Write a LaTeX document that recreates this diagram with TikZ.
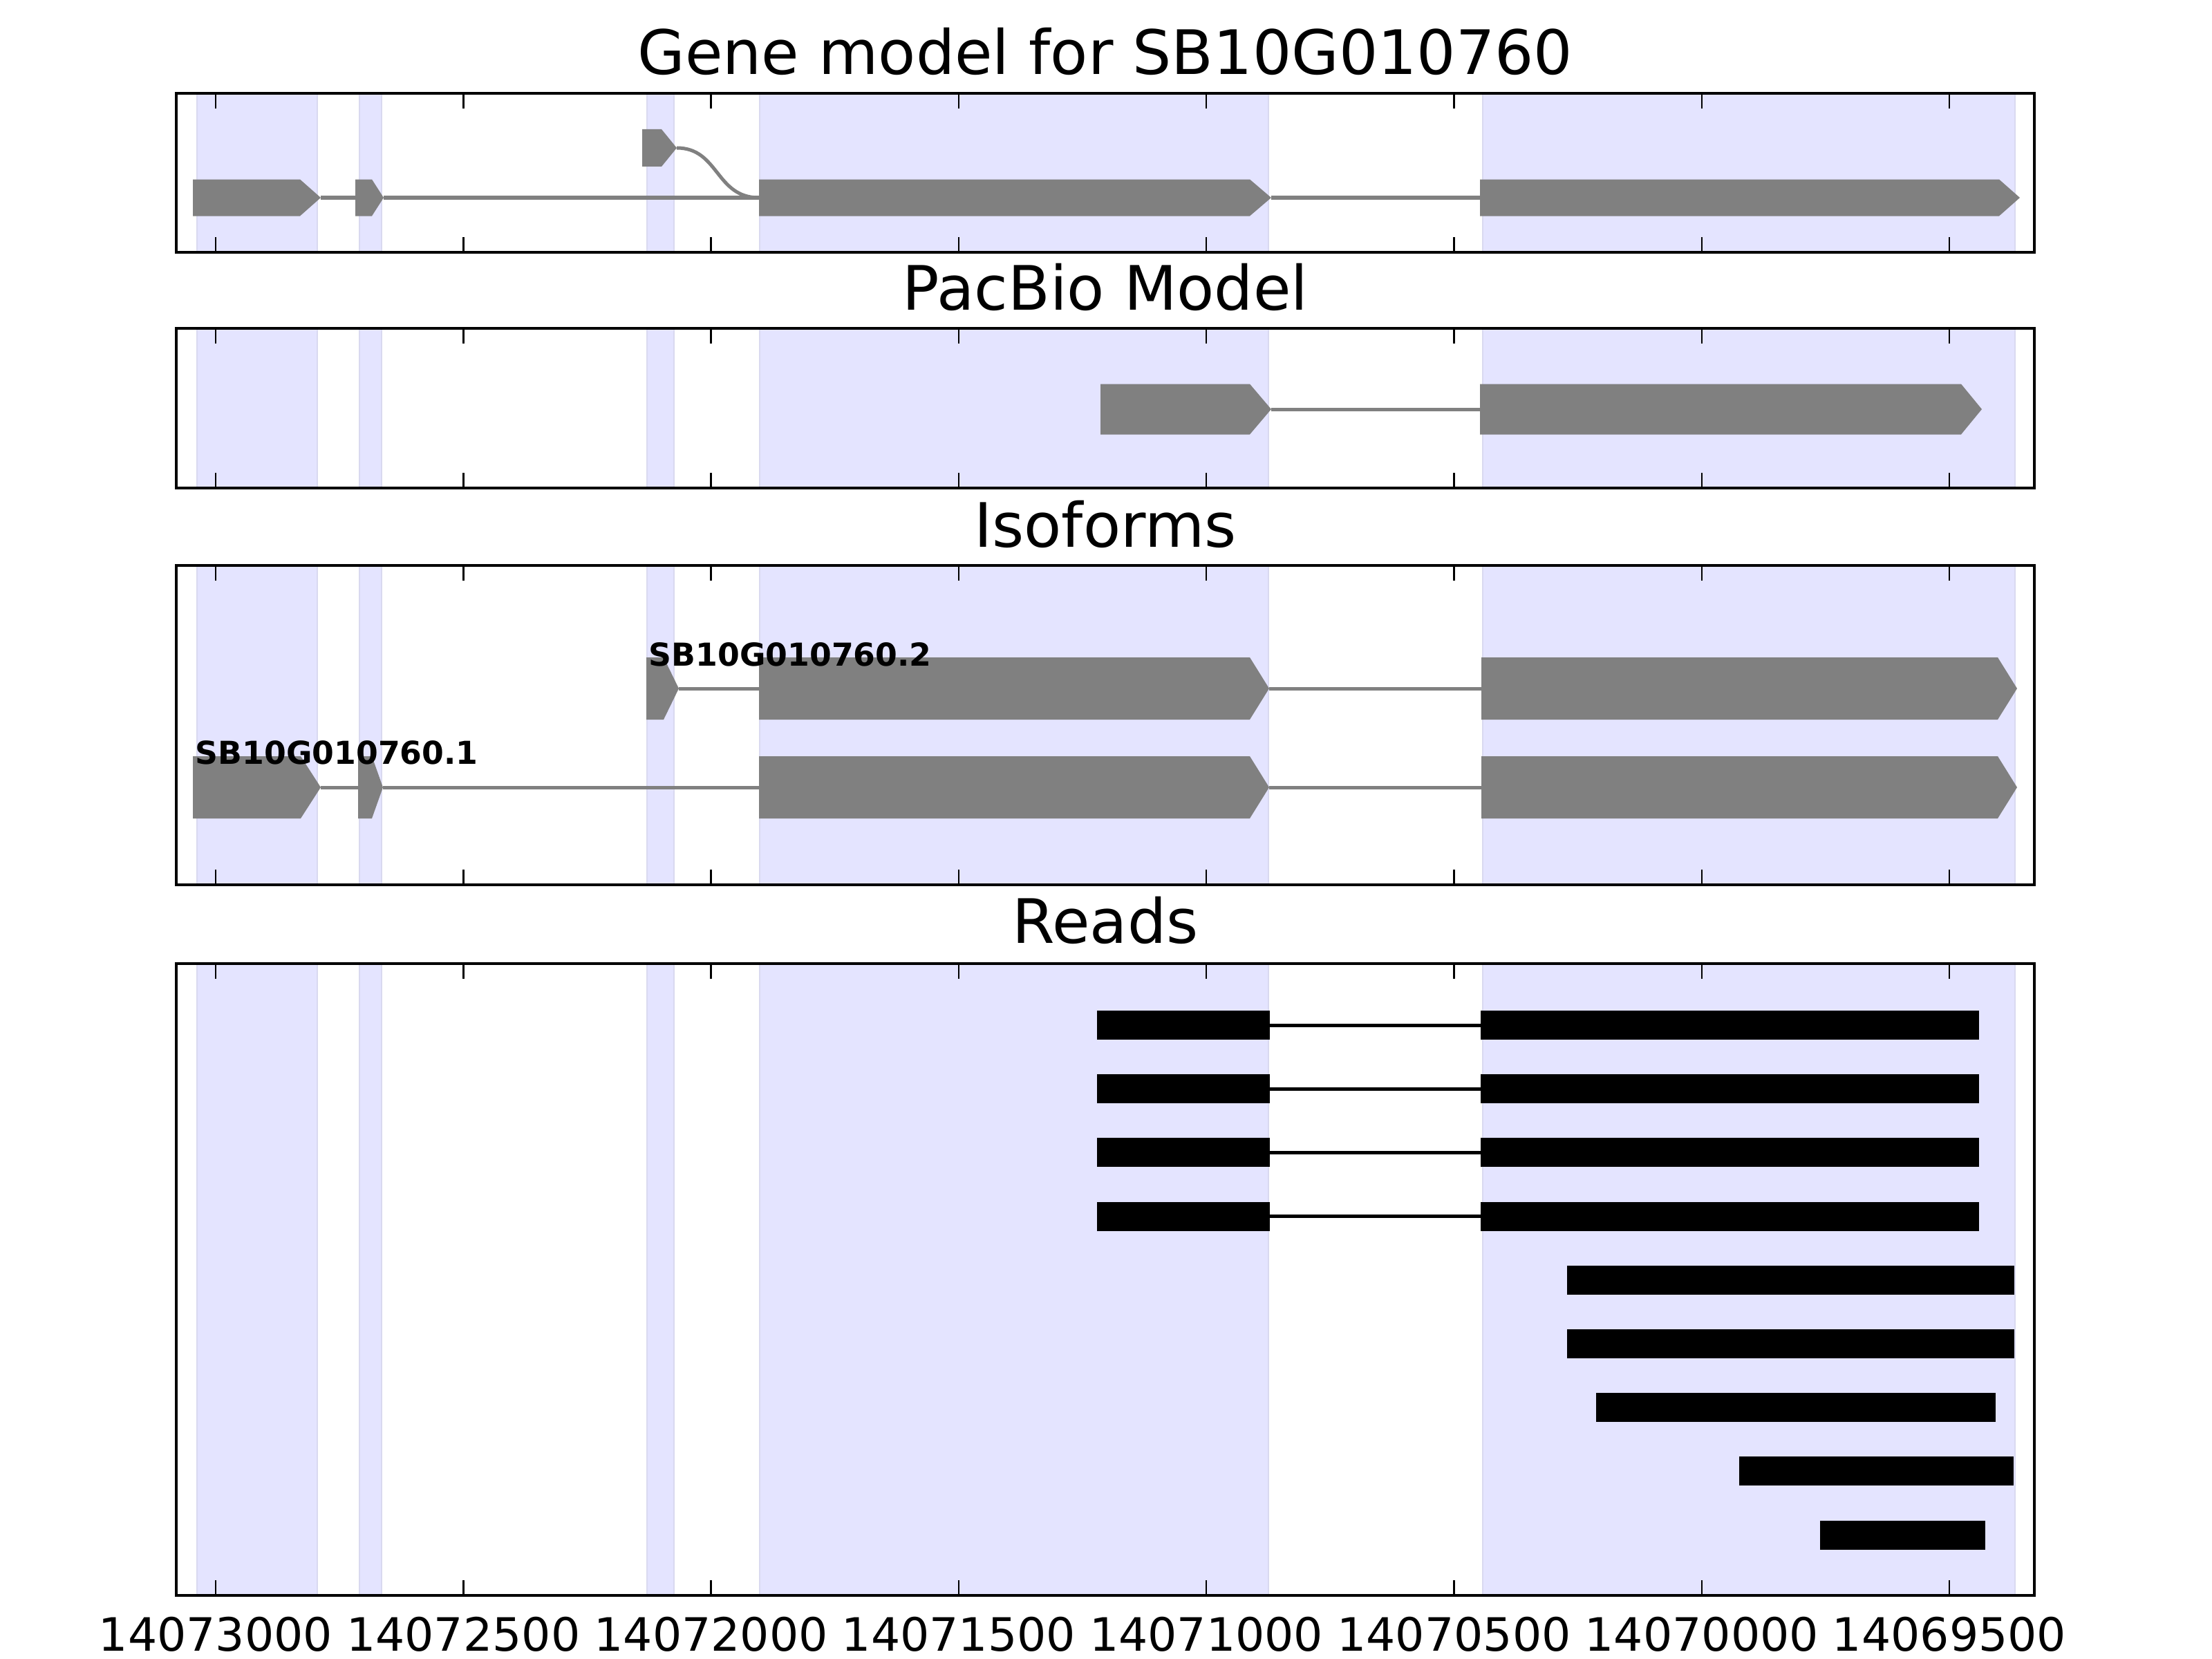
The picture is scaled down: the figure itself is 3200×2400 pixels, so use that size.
\documentclass[tikz,border=0pt]{standalone}
\usepackage{fontspec}
\setmainfont{DejaVu Sans}

\definecolor{bandfill}{rgb}{0.895,0.895,1}
\definecolor{bandedge}{rgb}{0.85,0.85,0.94}
\definecolor{exongray}{rgb}{0.5,0.5,0.5}

\tikzset{
  band/.style={fill=bandfill,draw=bandedge,line width=0.02cm},
  exon/.style={fill=exongray},
  intron/.style={draw=exongray,line width=0.05cm},
  readbar/.style={fill=black},
  readline/.style={draw=black,line width=0.05cm},
  frame/.style={draw=black,line width=0.04cm},
  tick/.style={draw=black,line width=0.025cm},
  title/.style={font=\fontsize{25.2pt}{30pt}\selectfont,anchor=base,inner sep=0pt},
  ticklabel/.style={font=\fontsize{18.9pt}{22pt}\selectfont,anchor=base,inner sep=0pt},
  isolabel/.style={font=\fontsize{13pt}{15pt}\selectfont\bfseries,anchor=base west,inner sep=0pt}
}

% x0, end of box, tip, centre y, half height
\newcommand{\exonshape}[5]{%
  \fill[exon] (#1,#4-#5) -- (#2,#4-#5) -- (#3,#4) -- (#2,#4+#5) -- (#1,#4+#5) -- cycle;}

\begin{document}
\begin{tikzpicture}[x=0.01cm,y=-0.01cm]
\useasboundingbox (0,0) rectangle (3200,2400);

% shaded exon bands in every panel
\foreach \ptop/\pbot in {135/365,475/706,818/1280,1394/2308}{
  \foreach \bl/\br in {285/459,520/552,936/975,1099/1835,2145/2915}{
    \draw[band] (\bl,\ptop) rectangle (\br,\pbot);
  }
}

% gene model
\draw[intron] (464,286) -- (514,286);
\draw[intron] (555,286) -- (1098,286);
\draw[intron] (1839,286) -- (2141,286);
\draw[intron] (979,214) .. controls (1040,214) and (1035,286) .. (1098,286);
\exonshape{279}{434}{464}{286}{26.5}
\exonshape{514}{538}{555}{286}{26.5}
\exonshape{1098}{1808}{1839}{286}{26.5}
\exonshape{2141}{2892}{2922}{286}{26.5}
\exonshape{929}{957}{979}{214}{27}

% pacbio model
\draw[intron] (1839,592) -- (2141,592);
\exonshape{1592}{1808}{1839}{592}{36.5}
\exonshape{2141}{2837}{2867}{592}{36.5}

% isoforms
\draw[intron] (982,996) -- (1098,996);
\draw[intron] (1836,996) -- (2143,996);
\exonshape{935}{960}{982}{996}{45}
\exonshape{1098}{1808}{1836}{996}{45}
\exonshape{2143}{2890}{2918}{996}{45}
\draw[intron] (464,1139) -- (518,1139);
\draw[intron] (554,1139) -- (1098,1139);
\draw[intron] (1836,1139) -- (2143,1139);
\exonshape{279}{435}{464}{1139}{45}
\exonshape{518}{538}{554}{1139}{45}
\exonshape{1098}{1808}{1836}{1139}{45}
\exonshape{2143}{2890}{2918}{1139}{45}
\node[isolabel] (iso2) at (938,963) {SB10G010760.2};
\node[isolabel] (iso1) at (282,1105) {SB10G010760.1};

% reads
\foreach \i in {0,...,3}{
  \pgfmathsetmacro{\yc}{1483+92.2*\i}
  \draw[readline] (1837,\yc) -- (2142,\yc);
  \fill[readbar] (1587,\yc-21) rectangle (1837,\yc+21);
  \fill[readbar] (2142,\yc-21) rectangle (2863,\yc+21);
}
\foreach \i/\rl/\rr in {4/2267/2914,5/2267/2914,6/2309/2887,7/2516/2913,8/2633/2872}{
  \pgfmathsetmacro{\yc}{1483+92.2*\i}
  \fill[readbar] (\rl,\yc-21) rectangle (\rr,\yc+21);
}

% frames and ticks
\foreach \ptop/\pbot in {135/365,475/706,818/1280,1394/2308}{
  \foreach \k in {0,...,7}{
    \pgfmathsetmacro{\tx}{312+358.3*\k}
    \draw[tick] (\tx,\ptop) -- (\tx,\ptop+22);
    \draw[tick] (\tx,\pbot) -- (\tx,\pbot-22);
  }
  \draw[frame] (255,\ptop) rectangle (2943,\pbot);
}

% titles
\node[title] (t1) at (1599,108) {Gene model for SB10G010760};
\node[title] (t2) at (1599,448) {PacBio Model};
\node[title] (t3) at (1599,791) {Isoforms};
\node[title] (t4) at (1599,1364) {Reads};

% tick labels
\foreach \k/\lab in {0/14073000,1/14072500,2/14072000,3/14071500,4/14071000,5/14070500,6/14070000,7/14069500}{
  \pgfmathsetmacro{\tx}{312+358.3*\k}
  \node[ticklabel] (l\k) at (\tx,2388) {\lab};
}

\end{tikzpicture}
\end{document}
